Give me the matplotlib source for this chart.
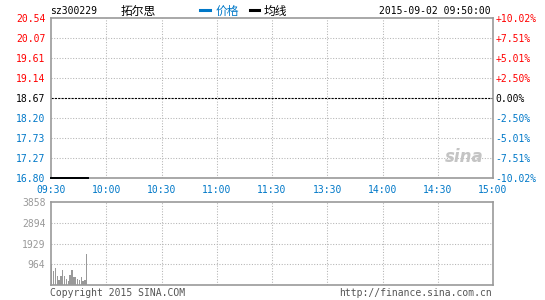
import matplotlib
matplotlib.use("Agg")
import matplotlib.pyplot as plt
from matplotlib.lines import Line2D

# ---------------- data ----------------
prev_close = 18.67
price_levels = [16.80, 17.27, 17.73, 18.20, 18.67, 19.14, 19.61, 20.07, 20.54]
pct_labels = ["-10.02%", "-7.51%", "-5.01%", "-2.50%", "0.00%",
              "+2.50%", "+5.01%", "+7.51%", "+10.02%"]
time_ticks = [0, 30, 60, 90, 120, 150, 180, 210, 240]
time_labels = ["09:30", "10:00", "10:30", "11:00", "11:30",
               "13:30", "14:00", "14:30", "15:00"]
vol_levels = [0, 964, 1929, 2894, 3858]

minutes = [0, 1, 2, 3, 4, 5, 6, 7, 8, 9, 10, 11, 12, 13, 14, 15, 16, 17, 18, 19, 20]
price = [16.80, 16.80, 16.80, 16.80, 16.80, 16.80, 16.80, 16.80, 16.80, 16.80, 16.80,
         16.80, 16.80, 16.80, 16.80, 16.80, 16.80, 16.80, 16.80, 16.80, 16.80]
avg_price = [16.80, 16.80, 16.80, 16.80, 16.80, 16.80, 16.80, 16.80, 16.80, 16.80, 16.80,
             16.80, 16.80, 16.80, 16.80, 16.80, 16.80, 16.80, 16.80, 16.80, 16.80]

vol_minutes = [0.4, 1.4, 2.4, 3.4, 4.4, 5.4, 6.4, 7.4, 8.4, 9.4,
               10.4, 11.4, 12.4, 13.4, 14.4, 15.4, 16.4, 17.4, 18.4, 19.4]
volume = [980, 660, 780, 430, 230, 410, 700, 430, 300, 200,
          460, 700, 380, 380, 300, 230, 370, 200, 230, 1420]

RED = "#ff0000"
BLUE = "#0078c8"
GRAY = "#999999"
GRID = "#b4b4b4"
MONO = "DejaVu Sans Mono"
CJK = ["Noto Sans CJK SC", "DejaVu Sans"]

W, H = 545, 300
fig = plt.figure(figsize=(5.45, 3.0), dpi=100)


def fx(px):
    return px / W


def fy(py):
    return 1 - py / H


# ---------------- price panel ----------------
ax = fig.add_axes([fx(51), fy(178), fx(442), (178 - 18) / H])
ax.set_xlim(0, 240)
ax.set_ylim(price_levels[0], price_levels[-1])

axr = ax.twinx()
axr.set_ylim(price_levels[0], price_levels[-1])
axr.set_yticks(price_levels)
axr.set_yticklabels(pct_labels, family=MONO, fontsize=7)
for lab, p in zip(axr.get_yticklabels(), price_levels):
    lab.set_color(RED if p > prev_close else (BLUE if p < prev_close else "black"))
axr.tick_params(axis="y", length=0, pad=2)
for s in axr.spines.values():
    s.set_visible(False)

for s in ax.spines.values():
    s.set_color(GRAY)
    s.set_linewidth(1.2)
    s.set_zorder(3)

for t in time_ticks[1:-1]:
    ax.axvline(t, color=GRID, lw=0.75, ls=(0, (1, 1.6)), zorder=1)
for p in price_levels[1:-1]:
    if p == prev_close:
        ax.axhline(p, color="black", lw=0.8, ls=(0, (2, 1)), zorder=2)
    else:
        ax.axhline(p, color=GRID, lw=0.75, ls=(0, (1, 1.6)), zorder=1)

# draw the lines on the top (twin) axes so the frame does not hide them
axr.plot(minutes, price, color=BLUE, lw=1.4, zorder=5, clip_on=False)
axr.plot(minutes, avg_price, color="black", lw=1.4, zorder=6, clip_on=False)

ax.text(0.935, 0.13, "sina", transform=ax.transAxes, ha="center", va="center",
        fontsize=12, fontweight="bold", style="italic", color="#c4c4c4",
        family="DejaVu Sans")

ax.set_yticks(price_levels)
ax.set_yticklabels([f"{p:.2f}" for p in price_levels], family=MONO, fontsize=7)
for lab, p in zip(ax.get_yticklabels(), price_levels):
    lab.set_color(RED if p > prev_close else (BLUE if p < prev_close else "black"))

ax.set_xticks(time_ticks)
ax.set_xticklabels(time_labels, family=MONO, fontsize=7, color=BLUE)
ax.tick_params(axis="both", length=0)
ax.tick_params(axis="y", pad=4)
ax.tick_params(axis="x", pad=5)

# ---------------- volume panel ----------------
av = fig.add_axes([fx(51), fy(285), fx(442), (285 - 202) / H])
av.set_xlim(0, 240)
av.set_ylim(0, vol_levels[-1])
for t in time_ticks[1:-1]:
    av.axvline(t, color=GRID, lw=0.75, ls=(0, (1, 1.6)), zorder=1)
for v in vol_levels[1:-1]:
    av.axhline(v, color=GRID, lw=0.75, ls=(0, (1, 1.6)), zorder=1)
av.bar(vol_minutes, volume, width=0.75, color=GRAY, zorder=3)
av.set_xticks([])
av.set_yticks(vol_levels[1:])
av.set_yticklabels([str(v) for v in vol_levels[1:]], family=MONO, fontsize=7,
                   color=GRAY)
av.tick_params(axis="y", length=0, pad=4)
for s in av.spines.values():
    s.set_color(GRAY)
    s.set_linewidth(1.2)

# ---------------- header / footer ----------------
fig.text(fx(50), fy(11), "sz300229", family=MONO, fontsize=7, va="center")
fig.text(fx(121), fy(11), "拓尔思", family=CJK, fontsize=8.5, va="center")
fig.add_artist(Line2D([fx(200), fx(210)], [fy(10), fy(10)], color=BLUE, lw=2.2))
fig.text(fx(216), fy(11), "价格", family=CJK, fontsize=8.5, va="center", color=BLUE)
fig.add_artist(Line2D([fx(250), fx(259)], [fy(10), fy(10)], color="black", lw=2.2))
fig.text(fx(264), fy(11), "均线", family=CJK, fontsize=8.5, va="center")
fig.text(fx(491), fy(11), "2015-09-02 09:50:00", family=MONO, fontsize=7,
         va="center", ha="right")

fig.text(fx(50), fy(293), "Copyright 2015 SINA.COM", family=MONO, fontsize=7,
         va="center", color="#555555")
fig.text(fx(492), fy(293), "http://finance.sina.com.cn", family=MONO, fontsize=7,
         va="center", ha="right", color="#555555")

fig.savefig("out.png", dpi=100, facecolor="white")
